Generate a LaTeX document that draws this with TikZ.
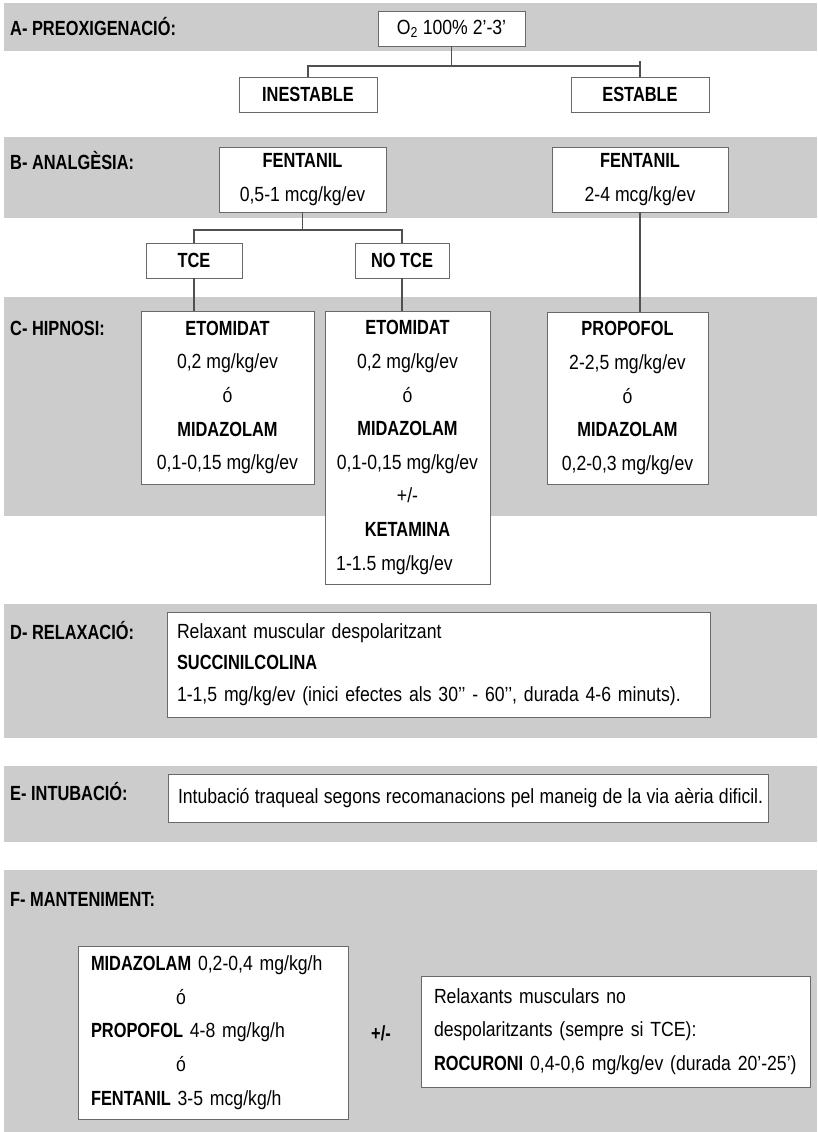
\documentclass[tikz,border=0pt]{standalone}
\usepackage{fontspec}
\setmainfont{Liberation Sans}[FakeStretch=0.86, BoldFeatures={FakeStretch=0.80}]
\definecolor{bandgray}{RGB}{204,204,204}
\definecolor{boxgray}{RGB}{105,105,105}
\definecolor{conngray}{RGB}{80,80,80}
\newcommand\myfs{\fontsize{20.5}{33.6}\selectfont}
\newcommand\myfsd{\fontsize{20.5}{31.6}\selectfont}
\begin{document}
\begin{tikzpicture}[x=1pt,y=-1pt,
  band/.style={fill=bandgray},
  box/.style={draw=boxgray, line width=0.9pt, fill=white, inner sep=0pt, align=center, font=\myfs},
  lbox/.style={draw=boxgray, line width=0.9pt, fill=white, inner ysep=0pt, align=left, font=\myfs},
  conn/.style={draw=conngray, line width=1.6pt},
  lab/.style={anchor=base west, inner sep=0pt, font=\myfs\bfseries}]
\useasboundingbox (0,0) rectangle (817,1132);
% bands
\fill[band] (4,3) rectangle (817,51);
\fill[band] (4,137) rectangle (817,218);
\fill[band] (4,297) rectangle (817,516);
\fill[band] (4,604) rectangle (817,738);
\fill[band] (4,766) rectangle (817,842);
\fill[band] (4,870) rectangle (817,1132);
% labels
\node[lab] (la) at (10,36) {A- PREOXIGENACIÓ:};
\node[lab] (lb) at (10,169.5) {B- ANALGÈSIA:};
\node[lab] (lc) at (10,335.5) {C- HIPNOSI:};
\node[lab] (ld) at (10,639.5) {D- RELAXACIÓ:};
\node[lab] (le) at (10,800.5) {E- INTUBACIÓ:};
\node[lab] (lf) at (10,906.5) {F- MANTENIMENT:};
% A
\node[box, minimum width=147, minimum height=35] (o2) at (451.5,28.5) {O\textsubscript{2} 100\% 2’-3’};
\node[box, minimum width=138, minimum height=35, font=\myfs\bfseries] (inest) at (308,94.5) {INESTABLE};
\node[box, minimum width=138, minimum height=35, font=\myfs\bfseries] (est) at (640,94.5) {ESTABLE};
\coordinate (spA) at (451.5,66);
\coordinate (tickA) at (640,61);
\draw[conn] (o2.south) -- (spA);
\draw[conn] (inest.north) |- (spA) -| (est.north);
\draw[conn] (est.north) -- (tickA);
% B
\node[box, minimum width=167, minimum height=65] (f1) at (302.5,179.5) {\textbf{FENTANIL}\\0,5-1 mcg/kg/ev};
\node[box, minimum width=176, minimum height=65] (f2) at (640,179.5) {\textbf{FENTANIL}\\2-4 mcg/kg/ev};
\node[box, minimum width=96, minimum height=35, font=\myfs\bfseries] (tce) at (194,260.5) {TCE};
\node[box, minimum width=94, minimum height=35, font=\myfs\bfseries] (notce) at (402,260.5) {NO TCE};
\coordinate (spB) at (302.5,230);
\draw[conn] (f1.south) -- (spB);
\draw[conn] (tce.north) |- (spB) -| (notce.north);
% C
\node[box, minimum width=173, minimum height=173] (e1) at (227.5,397.5)
  {\textbf{ETOMIDAT}\\0,2 mg/kg/ev\\ó\\\textbf{MIDAZOLAM}\\0,1-0,15 mg/kg/ev};
\node[box, minimum width=165, minimum height=273] (e2) at (407.5,447.5)
  {\textbf{ETOMIDAT}\\0,2 mg/kg/ev\\ó\\\textbf{MIDAZOLAM}\\0,1-0,15 mg/kg/ev\\+/-\\\textbf{KETAMINA}\\1-1.5 mg/kg/ev\hspace*{26pt}};
\node[box, minimum width=161, minimum height=172] (pr) at (627.5,398)
  {\textbf{PROPOFOL}\\2-2,5 mg/kg/ev\\ó\\\textbf{MIDAZOLAM}\\0,2-0,3 mg/kg/ev};
\draw[conn] (tce.south) -- (tce.south |- e1.north);
\draw[conn] (notce.south) -- (notce.south |- e2.north);
\draw[conn] (f2.south) -- (f2.south |- pr.north);
% D
\node[lbox, inner xsep=10pt, text width=523pt, minimum height=105, font=\myfsd] (d) at (438.5,664.5)
  {Relaxant muscular despolaritzant\\\textbf{SUCCINILCOLINA}\\\mbox{1-1,5 mg/kg/ev (inici efectes als 30’’ - 60’’, durada 4-6 minuts).}};
% E
\node[lbox, inner xsep=10pt, text width=580pt, minimum height=48] (e) at (468,798)
  {\spaceskip=5.3pt plus 1pt\relax\mbox{Intubació traqueal segons recomanacions pel maneig de la via aèria dificil.}};
% F
\node[lbox, inner xsep=13pt, text width=244pt, minimum height=173] (fl) at (213,1032.5)
  {\mbox{\textbf{MIDAZOLAM} 0,2-0,4 mg/kg/h}\\\hspace*{85pt}ó\\\mbox{\textbf{PROPOFOL} 4-8 mg/kg/h}\\\hspace*{85pt}ó\\\mbox{\textbf{FENTANIL} 3-5 mcg/kg/h}};
\node[font=\myfs\bfseries, inner sep=0pt] (pm) at (381,1033) {+/-};
\node[lbox, inner xsep=13pt, text width=363pt, minimum height=111] (fr) at (615.5,1031.5)
  {Relaxants musculars no\\\mbox{despolaritzants (sempre si TCE):}\\\mbox{\textbf{ROCURONI} 0,4-0,6 mg/kg/ev (durada 20’-25’)}};
\end{tikzpicture}
\end{document}
